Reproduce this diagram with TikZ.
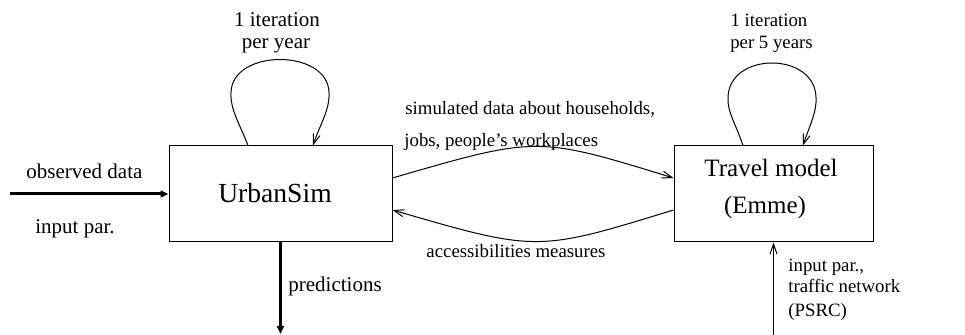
\documentclass[tikz,border=0pt]{standalone}
\usepackage{fontspec}
\setmainfont{Liberation Serif}
\usetikzlibrary{arrows.meta,calc}
\begin{document}
\begin{tikzpicture}[x=0.5pt,y=-0.5pt,
  box/.style={draw,line width=0.5pt,inner sep=0pt,minimum height=48pt},
  thinarr/.style={line width=0.5pt,-{Straight Barb[length=5pt,width=3.5pt]}},
  thickarr/.style={line width=1.5pt,-{Triangle[length=4pt,width=3.4pt]}},
  lbl/.style={inner sep=0pt,font=\fontsize{10.5}{12}\selectfont},
  rlbl/.style={inner sep=0pt,font=\fontsize{9.4}{11}\selectfont},
  bigl/.style={inner sep=0pt,font=\fontsize{13.8}{16}\selectfont},
  bigr/.style={inner sep=0pt,font=\fontsize{12.5}{15}\selectfont}]
\useasboundingbox (0,0) rectangle (965,335);

% boxes
\node[box,minimum width=111.5pt] (us) at (280.5,194) {};
\node[box,minimum width=99.5pt] (tm) at (773.5,194) {};
\node[bigl,anchor=base] (ust) at (275,203) {UrbanSim};
\node[bigr,anchor=base] (tmt1) at (771,177) {Travel model};
\node[bigr,anchor=base] (tmt2) at (765,214) {(Emme)};

% self loops
\draw[thinarr] ($(us.north)+(-32.5,0)$) .. controls ($(us.north)+(-40.5,-21)$) and ($(us.north)+(-50.5,-36)$) .. ($(us.north)+(-49.5,-53)$)
  .. controls ($(us.north)+(-48.5,-97)$) and ($(us.north)+(47.5,-97)$) .. ($(us.north)+(48.5,-53)$)
  .. controls ($(us.north)+(49.5,-36)$) and ($(us.north)+(39.5,-21)$) .. ($(us.north)+(32.5,0)$);
\draw[thinarr] ($(tm.north)+(-30.5,0)$) .. controls ($(tm.north)+(-37.5,-21)$) and ($(tm.north)+(-46.5,-34)$) .. ($(tm.north)+(-45.5,-48)$)
  .. controls ($(tm.north)+(-44.5,-94)$) and ($(tm.north)+(41.5,-94)$) .. ($(tm.north)+(42.5,-48)$)
  .. controls ($(tm.north)+(43.5,-34)$) and ($(tm.north)+(36.5,-21)$) .. ($(tm.north)+(29.5,0)$);
\node[lbl,anchor=base] (l1a) at (277,27) {1 iteration};
\node[lbl,anchor=base] (l1b) at (276,49) {per year};
\node[rlbl,anchor=base] (l2a) at (769,27) {1 iteration};
\node[rlbl,anchor=base] (l2b) at (771.5,49) {per 5 years};

% exchange arrows
\draw[thinarr] ($(us.east)+(0,-16)$) .. controls (537,136) .. ($(tm.west)+(0,-16)$);
\draw[thinarr] ($(tm.west)+(0,16)$) .. controls (537,252) .. ($(us.east)+(0,16)$);
\node[rlbl,anchor=base west] (s1) at (405,115) {simulated data about households,};
\node[rlbl,anchor=base west] (s2) at (404,147) {jobs, people’s workplaces};
\node[rlbl,anchor=base] (acc) at (516,258) {accessibilities measures};

% inputs / outputs
\coordinate (obs) at (10,194);
\draw[thickarr] (obs) -- (us.west);
\node[lbl,anchor=base west] (od) at (26,179) {observed data};
\node[lbl,anchor=base west] (ip) at (35,234) {input par.};

\coordinate (pred) at (280.5,334);
\draw[thickarr] (us.south) -- (pred);
\node[lbl,anchor=base west] (pr) at (288,292) {predictions};

\coordinate (inp) at (773.5,335);
\draw[thinarr] (inp) -- (tm.south);
\node[rlbl,anchor=base west] (i1) at (788,272) {input par.,};
\node[rlbl,anchor=base west] (i2) at (788,293) {traffic network};
\node[rlbl,anchor=base west] (i3) at (788,317) {(PSRC)};
\end{tikzpicture}
\end{document}
